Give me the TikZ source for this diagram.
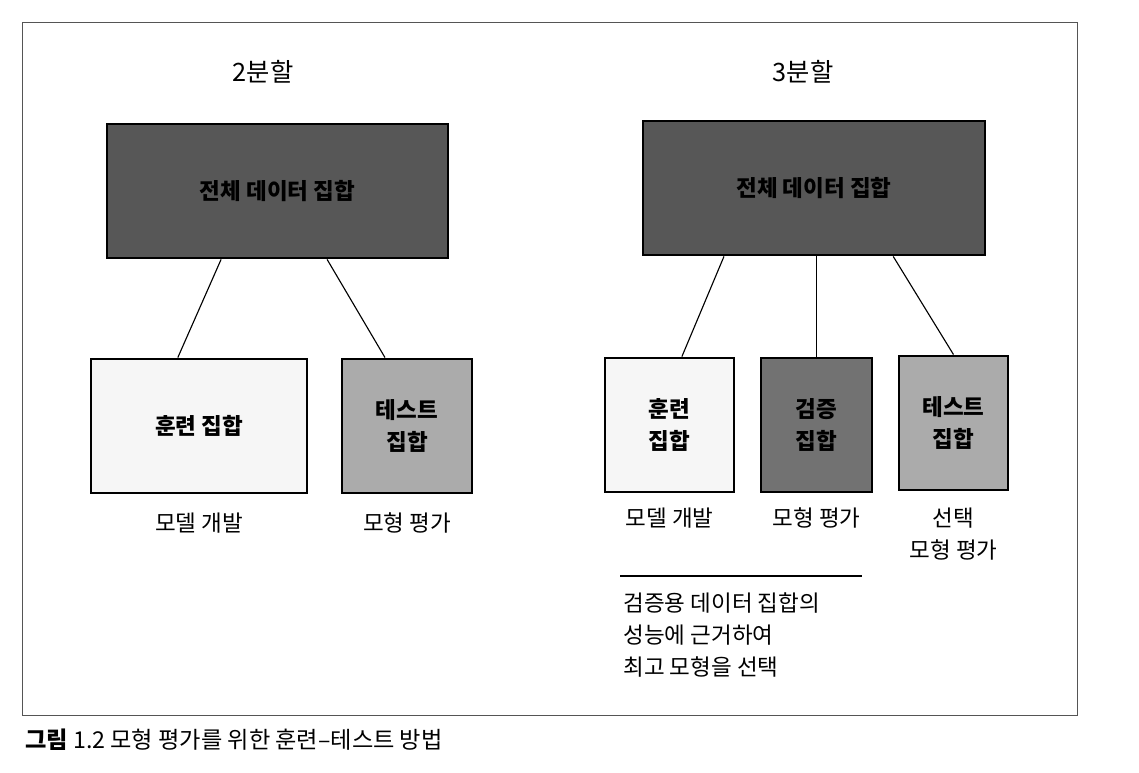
\documentclass[tikz,border=0pt]{standalone}
\usepackage{fontspec}
\setmainfont{Noto Sans CJK KR}
\usetikzlibrary{positioning,calc}
\definecolor{fullgray}{HTML}{575757}
\definecolor{valgray}{HTML}{727272}
\definecolor{testgray}{HTML}{ABABAB}
\definecolor{traingray}{HTML}{F6F6F6}
\definecolor{framegray}{HTML}{555555}

\begin{document}
\begin{tikzpicture}[x=0.025cm, y=-0.025cm,
    dset/.style={draw, line width=2pt, fill=#1, minimum height=3.35cm,
                 align=center, font=\fontsize{16}{23}\selectfont\bfseries},
    link/.style={line width=0.8pt, black},
    clbl/.style={font=\fontsize{16}{22.5}\selectfont, align=center, inner sep=0pt},
    ttl/.style={font=\fontsize{18}{21}\selectfont}
  ]
    \useasboundingbox (0,0) rectangle (1139,773);
    \draw[framegray, line width=0.6pt] (22,22) rectangle (1077,715);

    % two-way split
    \node[ttl] (t2) at (263,72) {2분할};
    \node[dset=fullgray, minimum width=8.525cm] (all2) at (277.5,191) {전체 데이터 집합};
    \node[dset=traingray, minimum width=5.4cm]  (trn2) at (199,426) {훈련 집합};
    \node[dset=testgray,  minimum width=3.25cm] (tst2) at (407,426) {테스트\\집합};
    \node[clbl, below=0.45cm of trn2] (dev2) {모델 개발};
    \node[clbl, below=0.45cm of tst2] (ev2)  {모형 평가};

    \draw[link] ([xshift=-1.41cm]all2.south) -- ([xshift=-0.53cm]trn2.north);
    \draw[link] ([xshift=1.24cm]all2.south)  -- ([xshift=-0.55cm]tst2.north);

    % three-way split
    \node[ttl] (t3) at (803,72) {3분할};
    \node[dset=fullgray, minimum width=8.55cm]   (all3) at (814,188) {전체 데이터 집합};
    \node[dset=traingray, minimum width=3.225cm] (trn3) at (669.5,425) {훈련\\집합};
    \node[dset=valgray,   minimum width=2.775cm] (val3) at (816.5,425) {검증\\집합};
    \node[dset=testgray,  minimum width=2.725cm] (tst3) at (953.5,423) {테스트\\집합};
    \node[clbl, below=0.36cm of trn3] (dev3) {모델 개발};
    \node[clbl, below=0.36cm of val3] (ev3)  {모형 평가};
    \node[clbl, below=0.41cm of tst3] (sel3) {선택\\모형 평가};

    \draw[link] ([xshift=-2.25cm]all3.south) -- ([xshift=0.31cm]trn3.north);
    \draw[link] (val3.north |- all3.south)   -- (val3.north);
    \draw[link] ([xshift=1.98cm]all3.south)  -- (tst3.north);

    % note under the rule
    \coordinate (ruleL) at (620,576);
    \coordinate (ruleR) at (862,576);
    \draw[line width=0.9pt] (ruleL) -- (ruleR);
    \node[clbl, align=left, font=\fontsize{16}{23}\selectfont,
          below right=0.4cm and 0.08cm of ruleL] (pick)
         {검증용 데이터 집합의\\성능에 근거하여\\최고 모형을 선택};

    % caption
    \node[anchor=west, inner sep=0pt, font=\fontsize{16.5}{19}\selectfont] (cap) at (25,740)
         {\textbf{그림} 1.2 모형 평가를 위한 훈련–테스트 방법};
  \end{tikzpicture}
\end{document}
